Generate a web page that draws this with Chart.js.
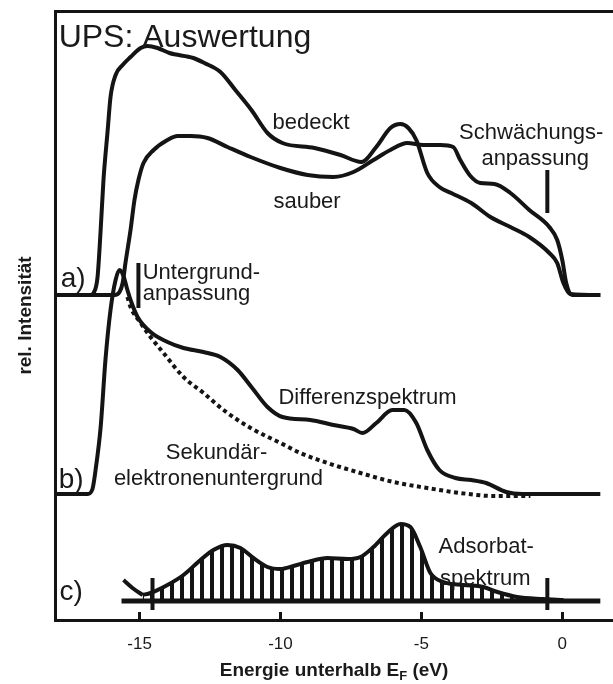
<!DOCTYPE html>
<html>
<head>
<meta charset="utf-8">
<title>UPS: Auswertung</title>
<script src="https://cdn.jsdelivr.net/npm/chart.js"></script>
<style>
  body { margin: 0; background: #fff; }
  #grafico { display: block; }
</style>
</head>
<body>
<canvas id="grafico" width="613" height="684"></canvas>
<script>
// Energie unterhalb E_F (eV), rel. Intensitaet (willkuerliche Einheiten)
let bedeckt = [
  [-17.98, 65], [-16.74, 65], [-16.63, 65.4], [-16.49, 68.6], [-16.38, 78], [-16.28, 88],
  [-16.13, 98], [-16.03, 104.6], [-15.85, 109], [-15.60, 111], [-15.32, 112.6], [-14.96, 114.4],
  [-14.72, 114.8], [-14.36, 114.4], [-13.94, 113.4], [-13.09, 112.4], [-12.70, 111.4], [-12.13, 109.6],
  [-11.60, 106], [-11.03, 102], [-10.46, 97.4], [-9.93, 95.4], [-8.79, 94.4], [-7.87, 93],
  [-7.13, 91.6], [-6.60, 94.6], [-6.10, 98.4], [-5.74, 99.2], [-5.46, 98.4], [-5.18, 96],
  [-4.79, 89.4], [-4.36, 86.6], [-3.94, 85.4], [-3.23, 83.4], [-2.55, 80.6], [-1.84, 78.6],
  [-1.17, 76.6], [-0.46, 73.4], [-0.18, 71.4], [0.04, 67.4], [0.28, 65.2], [1.35, 65]
];

let sauber = [
  [-17.98, 65], [-15.89, 65], [-15.71, 65.6], [-15.60, 67.4], [-15.50, 71.4], [-15.32, 78],
  [-15.18, 84], [-15.04, 88], [-14.86, 91.4], [-14.50, 94], [-14.01, 96], [-13.65, 96.8],
  [-13.19, 96.8], [-12.59, 96.4], [-11.88, 94.6], [-11.06, 92.6], [-10.00, 90.4], [-9.04, 89],
  [-8.12, 88.6], [-7.41, 89.6], [-6.70, 92], [-6.10, 94], [-5.50, 95.4], [-4.93, 95],
  [-4.33, 95], [-3.87, 94.6], [-3.62, 92], [-3.26, 88.8], [-2.91, 87.4], [-2.41, 87.2],
  [-1.84, 85.4], [-1.17, 82], [-0.46, 78.6], [-0.18, 76], [0.00, 72], [0.14, 67.4],
  [0.35, 65], [1.35, 65]
];

let differenz = [
  [-17.98, 25.2], [-16.84, 25.2], [-16.67, 26.2], [-16.56, 30], [-16.38, 38.6], [-16.21, 52],
  [-16.03, 62], [-15.85, 68], [-15.71, 70], [-15.57, 68.8], [-15.43, 66], [-15.28, 63.4],
  [-15.07, 60.6], [-14.61, 57.6], [-14.01, 55.6], [-13.44, 54.4], [-12.73, 53.6], [-12.13, 52.6],
  [-11.52, 50], [-11.03, 46.6], [-10.46, 42.6], [-9.93, 40.6], [-8.94, 40], [-8.12, 39],
  [-7.41, 38.2], [-7.09, 37.4], [-6.60, 39.4], [-6.03, 42], [-5.60, 42], [-5.18, 39.4],
  [-4.79, 34], [-4.36, 30], [-3.79, 28.4], [-3.23, 28], [-2.70, 27.4], [-1.99, 25.6],
  [-1.42, 25.2], [1.35, 25.2]
];

let untergrund = [
  [-15.43, 64.6], [-15.32, 62.6], [-14.96, 59.4], [-14.61, 56.6], [-14.15, 53.4], [-13.44, 48.6],
  [-12.73, 45.4], [-12.02, 42], [-11.06, 38.4], [-10.00, 35.4], [-9.29, 33.4], [-8.33, 31.4],
  [-7.16, 29.4], [-5.99, 27.6], [-4.79, 26.4], [-3.62, 25.4], [-2.45, 24.8], [-1.13, 24.8]
];

let adsorbatAnfang = [[-15.57, 8], [-15.25, 6.4], [-14.89, 5]];
let adsorbat = [
  [-14.89, 5], [-14.61, 5.4], [-14.01, 7], [-13.44, 9], [-12.84, 12], [-12.38, 14],
  [-11.88, 15], [-11.42, 14.4], [-10.96, 12.4], [-10.46, 10.6], [-10.00, 10.2], [-9.54, 10.8],
  [-9.04, 11.6], [-8.33, 12.4], [-7.62, 12.2], [-7.16, 12.6], [-6.70, 14.6], [-6.21, 17.4],
  [-5.74, 19.2], [-5.39, 18.6], [-5.04, 14.6], [-4.68, 9.4], [-4.22, 7.6], [-3.51, 7],
  [-2.80, 6.6], [-2.30, 5.6], [-1.60, 4.6], [-0.67, 4.2], [0.04, 4]
];
let adsorbatNull = 3.8;
let adsorbatBasis = [[-15.64, 3.8], [1.35, 3.8]];

// Anpassungsmarken: Energie, von, bis
let marken = [[-15.04, 62.4, 71.4], [-0.53, 81.4, 90], [-14.54, 2, 8.4], [-0.53, 2, 8.4]];

let xTicks = [-15, -10, -5, 0];
let xMin = -18, xMax = 1.8, yMax = 121.8;

let notizen = [
  { t: "UPS: Auswertung", e: -17.87, i: 114.6, size: 32, align: "left" },
  { t: "a)", e: -17.80, i: 66.6, size: 28, align: "left" },
  { t: "b)", e: -17.87, i: 26.4, size: 28, align: "left" },
  { t: "c)", e: -17.84, i: 4.0, size: 28, align: "left" },
  { t: "Untergrund-", e: -14.89, i: 68.2, size: 22, align: "left" },
  { t: "anpassung", e: -14.89, i: 64, size: 22, align: "left" },
  { t: "bedeckt", e: -10.28, i: 98.2, size: 22, align: "left" },
  { t: "sauber", e: -10.25, i: 82.4, size: 22, align: "left" },
  { t: "Schwächungs-", e: -1.10, i: 96.2, size: 22, align: "center" },
  { t: "anpassung", e: -0.96, i: 91.1, size: 22, align: "center" },
  { t: "Differenzspektrum", e: -10.07, i: 43.2, size: 22, align: "left" },
  { t: "Sekundär-", e: -12.27, i: 32.2, size: 22, align: "center" },
  { t: "elektronenuntergrund", e: -12.20, i: 27, size: 22, align: "center" },
  { t: "Adsorbat-", e: -2.70, i: 13.4, size: 22, align: "center" },
  { t: "spektrum", e: -2.73, i: 7, size: 22, align: "center" }
];

let schrift = "'Liberation Sans', Arial, sans-serif";
let schwarz = "#141414";

function linie(datos, extra) {
  return Object.assign({
    data: datos.map(p => ({ x: p[0], y: p[1] })),
    borderColor: schwarz,
    borderWidth: 4,
    pointRadius: 0,
    cubicInterpolationMode: "monotone",
    fill: false
  }, extra || {});
}

function rayado(ctx) {
  let c = document.createElement("canvas");
  c.width = 10;
  c.height = 10;
  let g = c.getContext("2d");
  g.fillStyle = schwarz;
  g.fillRect(0, 0, 4, 10);
  return ctx.createPattern(c, "repeat");
}

let textos = {
  id: "textos",
  afterDraw(chart) {
    let ctx = chart.ctx, x = chart.scales.x, y = chart.scales.y;
    ctx.save();
    ctx.fillStyle = "#1a1a1a";
    ctx.textBaseline = "alphabetic";
    notizen.forEach(n => {
      ctx.font = n.size + "px " + schrift;
      ctx.textAlign = n.align;
      ctx.fillText(n.t, x.getPixelForValue(n.e), y.getPixelForValue(n.i));
    });

    // Achsentitel mit Index F
    let groß = "bold 19px " + schrift, klein = "bold 13px " + schrift;
    let a = "Energie unterhalb E", b = "F", c = " (eV)";
    ctx.font = groß;
    let wa = ctx.measureText(a).width, wc = ctx.measureText(c).width;
    ctx.font = klein;
    let wb = ctx.measureText(b).width;
    let mitte = (chart.chartArea.left + chart.chartArea.right) / 2;
    let x0 = mitte - (wa + wb + wc) / 2, basis = chart.height - 8;
    ctx.textAlign = "left";
    ctx.font = groß;
    ctx.fillText(a, x0, basis);
    ctx.font = klein;
    ctx.fillText(b, x0 + wa, basis + 4);
    ctx.font = groß;
    ctx.fillText(c, x0 + wa + wb, basis);
    ctx.restore();
  }
};

let ctx = document.getElementById("grafico").getContext("2d");

let datasets = [
  linie(bedeckt),
  linie(sauber),
  linie(differenz),
  linie(untergrund, { borderDash: [4, 3.5] }),
  linie(adsorbatBasis, { borderWidth: 5, cubicInterpolationMode: "default", tension: 0 }),
  linie(adsorbatAnfang),
  linie(adsorbat, { fill: { value: adsorbatNull }, backgroundColor: rayado(ctx) })
];
marken.forEach(m => {
  datasets.push(linie([[m[0], m[1]], [m[0], m[2]]], { cubicInterpolationMode: "default", tension: 0 }));
});

Chart.defaults.font.family = schrift;
Chart.defaults.color = "#1a1a1a";

new Chart(ctx, {
  type: "line",
  data: { datasets: datasets },
  plugins: [textos],
  options: {
    responsive: false,
    animation: false,
    layout: { padding: { top: 11, left: 0, right: 0, bottom: 0 } },
    plugins: { legend: { display: false }, tooltip: { enabled: false } },
    scales: {
      x: {
        type: "linear",
        position: "bottom",
        min: xMin,
        max: xMax,
        afterBuildTicks: s => { s.ticks = xTicks.map(v => ({ value: v })); },
        afterFit: s => { s.height = 64; },
        ticks: { font: { size: 17 }, color: "#1a1a1a", padding: 22 },
        grid: { drawOnChartArea: false, drawTicks: true, tickLength: -8, tickWidth: 3, tickColor: schwarz },
        border: { display: true, width: 3, color: schwarz }
      },
      x2: {
        type: "linear",
        position: "top",
        min: xMin,
        max: xMax,
        afterFit: s => { s.height = 0; },
        ticks: { display: false },
        grid: { display: false, drawTicks: false },
        border: { display: true, width: 3, color: schwarz }
      },
      y: {
        type: "linear",
        min: 0,
        max: yMax,
        afterFit: s => { s.width = 55; },
        ticks: { display: false },
        grid: { display: false, drawTicks: false },
        border: { display: true, width: 3, color: schwarz },
        title: {
          display: true,
          text: "rel. Intensität",
          font: { size: 19, weight: "bold" },
          color: "#1a1a1a",
          padding: { top: 14, bottom: 0 }
        }
      }
    }
  }
});
</script>
</body>
</html>
